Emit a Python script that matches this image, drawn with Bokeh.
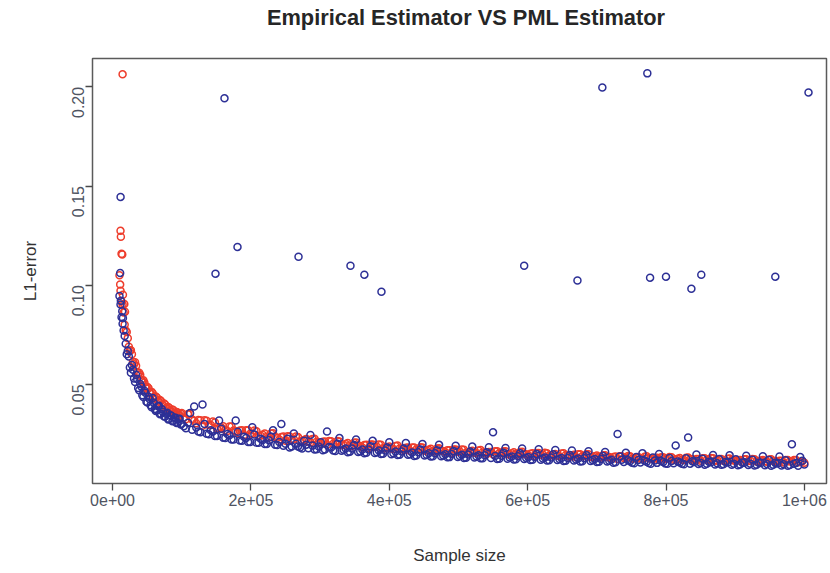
import math
from bokeh.plotting import figure
from bokeh.models import FixedTicker, Range1d, Div
from bokeh.layouts import column
from bokeh.embed import file_html
from bokeh.resources import INLINE

# Sample sizes: two interleaved grids, finer at small n
early_a = list(range(10000, 100000, 3000))
early_b = list(range(11500, 100000, 3000))
late_a = list(range(100000, 1000001, 6000))
late_b = list(range(103000, 1000000, 6000))

# L1 error of the empirical estimator (blue)
emp_early_a = [0.0945, 0.0838, 0.0772, 0.0705, 0.0668, 0.0585, 0.0597, 0.0530, 0.0548, 0.0481,
               0.0502, 0.0445, 0.0468, 0.0412, 0.0437, 0.0395, 0.0431, 0.0376, 0.0369, 0.0392,
               0.0352, 0.0361, 0.0338, 0.0357, 0.0325, 0.0341, 0.0315, 0.0332, 0.0306, 0.0327]
emp_early_b = [0.0902, 0.0805, 0.0744, 0.0652, 0.0641, 0.0559, 0.0573, 0.0512, 0.0527, 0.0470,
               0.0489, 0.0436, 0.0458, 0.0409, 0.0426, 0.0384, 0.0407, 0.0366, 0.0389, 0.0349,
               0.0374, 0.0338, 0.0352, 0.0323, 0.0344, 0.0314, 0.0331, 0.0305, 0.0325, 0.0298]
emp_late_a = [0.0301, 0.0278, 0.0355, 0.0388, 0.0262, 0.0398, 0.0251, 0.0268, 0.0239, 0.0318,
              0.0231, 0.0249, 0.0222, 0.0318, 0.0217, 0.0236, 0.0209, 0.0284, 0.0206, 0.0226,
              0.0199, 0.0218, 0.0268, 0.0194, 0.0300, 0.0201, 0.0182, 0.0252, 0.0187, 0.0176,
              0.0196, 0.0244, 0.0171, 0.0186, 0.0168, 0.0262, 0.0181, 0.0164, 0.0229, 0.0170,
              0.0158, 0.0176, 0.0222, 0.0162, 0.0153, 0.0171, 0.0215, 0.0157, 0.0149, 0.0166,
              0.0208, 0.0152, 0.0144, 0.0161, 0.0204, 0.0148, 0.0139, 0.0158, 0.0199, 0.0145,
              0.0136, 0.0153, 0.0195, 0.0141, 0.0132, 0.0149, 0.0190, 0.0139, 0.0129, 0.0146,
              0.0186, 0.0136, 0.0127, 0.0143, 0.0183, 0.0258, 0.0124, 0.0140, 0.0179, 0.0131,
              0.0121, 0.0137, 0.0176, 0.0128, 0.0119, 0.0134, 0.0173, 0.0126, 0.0116, 0.0131,
              0.0169, 0.0123, 0.0114, 0.0129, 0.0166, 0.0121, 0.0111, 0.0127, 0.0163, 0.0118,
              0.0108, 0.0124, 0.0159, 0.0115, 0.0105, 0.0249, 0.0120, 0.0155, 0.0112, 0.0102,
              0.0118, 0.0152, 0.0110, 0.0100, 0.0116, 0.0149, 0.0108, 0.0099, 0.0114, 0.0192,
              0.0106, 0.0097, 0.0232, 0.0112, 0.0146, 0.0104, 0.0095, 0.0110, 0.0144, 0.0102,
              0.0094, 0.0108, 0.0142, 0.0100, 0.0092, 0.0106, 0.0140, 0.0099, 0.0091, 0.0105,
              0.0138, 0.0098, 0.0090, 0.0104, 0.0136, 0.0097, 0.0089, 0.0198, 0.0103, 0.0134,
              0.0096]
emp_late_b = [0.0289, 0.0306, 0.0271, 0.0282, 0.0259, 0.0300, 0.0248, 0.0262, 0.0240, 0.0276,
              0.0229, 0.0243, 0.0222, 0.0261, 0.0216, 0.0230, 0.0209, 0.0247, 0.0205, 0.0219,
              0.0199, 0.0236, 0.0195, 0.0209, 0.0190, 0.0226, 0.0186, 0.0200, 0.0181, 0.0216,
              0.0178, 0.0191, 0.0173, 0.0208, 0.0171, 0.0184, 0.0166, 0.0200, 0.0165, 0.0177,
              0.0160, 0.0194, 0.0159, 0.0171, 0.0155, 0.0188, 0.0154, 0.0166, 0.0150, 0.0182,
              0.0148, 0.0161, 0.0145, 0.0177, 0.0145, 0.0156, 0.0141, 0.0172, 0.0141, 0.0152,
              0.0137, 0.0168, 0.0137, 0.0148, 0.0133, 0.0164, 0.0134, 0.0145, 0.0130, 0.0161,
              0.0131, 0.0142, 0.0127, 0.0158, 0.0128, 0.0139, 0.0125, 0.0155, 0.0125, 0.0136,
              0.0122, 0.0152, 0.0123, 0.0133, 0.0120, 0.0149, 0.0120, 0.0131, 0.0117, 0.0147,
              0.0118, 0.0128, 0.0115, 0.0144, 0.0116, 0.0126, 0.0112, 0.0142, 0.0114, 0.0123,
              0.0110, 0.0139, 0.0111, 0.0120, 0.0107, 0.0136, 0.0108, 0.0117, 0.0105, 0.0133,
              0.0106, 0.0115, 0.0103, 0.0131, 0.0104, 0.0113, 0.0101, 0.0129, 0.0102, 0.0111,
              0.0099, 0.0127, 0.0100, 0.0109, 0.0098, 0.0125, 0.0099, 0.0107, 0.0096, 0.0123,
              0.0097, 0.0106, 0.0095, 0.0122, 0.0096, 0.0104, 0.0093, 0.0120, 0.0095, 0.0103,
              0.0092, 0.0118, 0.0094, 0.0101, 0.0091, 0.0117, 0.0093, 0.0100, 0.0090, 0.0115]
emp_extra_n = [11000, 11600, 12000, 14000, 15000, 148800, 161800, 180600, 268800, 343900,
               364000, 388700, 595000, 672000, 708000, 773000, 777000, 800000, 836700, 851000,
               958000, 1006000]
emp_extra = [0.1062, 0.1445, 0.0921, 0.0868, 0.0835, 0.1058, 0.1942, 0.1193, 0.1143, 0.1098,
             0.1053, 0.0967, 0.1098, 0.1023, 0.1997, 0.2068, 0.1038, 0.1043, 0.0982, 0.1053,
             0.1043, 0.1972]

# L1 error of the PML estimator (red)
pml_early_a = [0.1050, 0.0918, 0.0862, 0.0771, 0.0733, 0.0671, 0.0652, 0.0601, 0.0594, 0.0549,
               0.0548, 0.0514, 0.0509, 0.0479, 0.0480, 0.0452, 0.0455, 0.0430, 0.0434, 0.0412,
               0.0416, 0.0393, 0.0398, 0.0377, 0.0381, 0.0364, 0.0369, 0.0352, 0.0358, 0.0344]
pml_early_b = [0.0972, 0.0903, 0.0801, 0.0764, 0.0689, 0.0672, 0.0614, 0.0611, 0.0562, 0.0559,
               0.0523, 0.0521, 0.0488, 0.0486, 0.0459, 0.0462, 0.0436, 0.0439, 0.0417, 0.0421,
               0.0399, 0.0403, 0.0382, 0.0386, 0.0367, 0.0373, 0.0356, 0.0361, 0.0346, 0.0352]
pml_late_a = [0.0355, 0.0324, 0.0350, 0.0317, 0.0320, 0.0291, 0.0316, 0.0295, 0.0307, 0.0277,
              0.0289, 0.0265, 0.0288, 0.0263, 0.0267, 0.0245, 0.0268, 0.0251, 0.0264, 0.0241,
              0.0252, 0.0232, 0.0253, 0.0231, 0.0235, 0.0216, 0.0237, 0.0223, 0.0234, 0.0213,
              0.0225, 0.0207, 0.0226, 0.0207, 0.0211, 0.0195, 0.0213, 0.0201, 0.0212, 0.0194,
              0.0204, 0.0189, 0.0207, 0.0189, 0.0194, 0.0179, 0.0197, 0.0185, 0.0195, 0.0178,
              0.0187, 0.0174, 0.0191, 0.0175, 0.0180, 0.0165, 0.0182, 0.0172, 0.0182, 0.0166,
              0.0175, 0.0162, 0.0178, 0.0164, 0.0168, 0.0155, 0.0171, 0.0161, 0.0170, 0.0156,
              0.0165, 0.0154, 0.0169, 0.0155, 0.0159, 0.0147, 0.0162, 0.0153, 0.0162, 0.0148,
              0.0157, 0.0146, 0.0160, 0.0147, 0.0150, 0.0140, 0.0154, 0.0146, 0.0153, 0.0142,
              0.0149, 0.0138, 0.0153, 0.0140, 0.0143, 0.0133, 0.0147, 0.0139, 0.0147, 0.0135,
              0.0141, 0.0131, 0.0143, 0.0133, 0.0134, 0.0124, 0.0137, 0.0130, 0.0138, 0.0126,
              0.0134, 0.0124, 0.0137, 0.0126, 0.0129, 0.0119, 0.0132, 0.0125, 0.0132, 0.0121,
              0.0129, 0.0119, 0.0131, 0.0122, 0.0124, 0.0115, 0.0127, 0.0120, 0.0127, 0.0116,
              0.0124, 0.0114, 0.0126, 0.0117, 0.0119, 0.0110, 0.0122, 0.0115, 0.0122, 0.0112,
              0.0119, 0.0110, 0.0122, 0.0113, 0.0115, 0.0106, 0.0118, 0.0112, 0.0118, 0.0108,
              0.0105]
pml_late_b = [0.0331, 0.0350, 0.0323, 0.0304, 0.0319, 0.0319, 0.0295, 0.0313, 0.0277, 0.0283,
              0.0270, 0.0288, 0.0267, 0.0253, 0.0268, 0.0269, 0.0251, 0.0267, 0.0239, 0.0246,
              0.0236, 0.0252, 0.0235, 0.0222, 0.0237, 0.0238, 0.0221, 0.0237, 0.0212, 0.0219,
              0.0210, 0.0225, 0.0210, 0.0200, 0.0212, 0.0214, 0.0200, 0.0214, 0.0193, 0.0199,
              0.0191, 0.0206, 0.0192, 0.0182, 0.0195, 0.0197, 0.0184, 0.0197, 0.0178, 0.0183,
              0.0176, 0.0189, 0.0177, 0.0169, 0.0181, 0.0182, 0.0171, 0.0183, 0.0165, 0.0170,
              0.0164, 0.0176, 0.0165, 0.0158, 0.0168, 0.0171, 0.0160, 0.0172, 0.0155, 0.0160,
              0.0155, 0.0167, 0.0156, 0.0149, 0.0159, 0.0162, 0.0152, 0.0163, 0.0147, 0.0152,
              0.0147, 0.0159, 0.0149, 0.0142, 0.0152, 0.0154, 0.0144, 0.0155, 0.0140, 0.0145,
              0.0140, 0.0151, 0.0142, 0.0135, 0.0145, 0.0147, 0.0137, 0.0148, 0.0133, 0.0138,
              0.0133, 0.0143, 0.0134, 0.0127, 0.0136, 0.0137, 0.0129, 0.0139, 0.0125, 0.0130,
              0.0125, 0.0135, 0.0127, 0.0122, 0.0130, 0.0132, 0.0123, 0.0134, 0.0120, 0.0125,
              0.0120, 0.0130, 0.0122, 0.0117, 0.0124, 0.0127, 0.0119, 0.0128, 0.0115, 0.0120,
              0.0115, 0.0125, 0.0117, 0.0112, 0.0119, 0.0122, 0.0114, 0.0123, 0.0111, 0.0116,
              0.0112, 0.0121, 0.0113, 0.0108, 0.0115, 0.0118, 0.0111, 0.0119, 0.0107, 0.0112]
pml_extra_n = [11000, 11500, 12000, 13000, 14000, 14500, 15000, 17000, 18000]
pml_extra = [0.1003, 0.1274, 0.1244, 0.1158, 0.1155, 0.2063, 0.0952, 0.0905, 0.0866]

x_ticks = [0, 200000, 400000, 600000, 800000, 1000000]
x_tick_labels = ["0e+00", "2e+05", "4e+05", "6e+05", "8e+05", "1e+06"]
y_ticks = [0.05, 0.10, 0.15, 0.20]
y_tick_labels = ["0.05", "0.10", "0.15", "0.20"]

FONT = "Liberation Sans"
BLUE = "#2d3096"
RED = "#ee3d2c"
TITLE_H = 36

# heading strip above the plot
heading = Div(
    text="Empirical Estimator VS PML Estimator",
    width=728, height=TITLE_H, margin=(0, 0, 0, 102),
    styles={"font-family": FONT, "font-weight": "bold", "font-size": "21.8px",
            "color": "#262626", "text-align": "center", "line-height": f"{TITLE_H}px",
            "width": "728px", "display": "block"})

p = figure(width=830, height=573 - TITLE_H, output_backend="svg", toolbar_location=None,
           x_range=Range1d(-29000, 1032000), y_range=Range1d(0.0, 0.2143),
           min_border_left=92, min_border_right=4, min_border_top=58 - TITLE_H,
           min_border_bottom=90, margin=0)

p.background_fill_color = "white"
p.border_fill_color = "white"
p.grid.visible = False
p.outline_line_color = "#5a5a5a"
p.outline_line_width = 1.5


def pairs(xs, ys):
    n = min(len(xs), len(ys))
    return xs[:n], ys[:n]


circle_kw = dict(size=7, fill_color=None, line_width=1.5)
for xs, ys in ((early_a, pml_early_a), (early_b, pml_early_b),
               (late_a, pml_late_a), (late_b, pml_late_b), (pml_extra_n, pml_extra)):
    p.scatter(*pairs(xs, ys), line_color=RED, **circle_kw)
for xs, ys in ((early_a, emp_early_a), (early_b, emp_early_b),
               (late_a, emp_late_a), (late_b, emp_late_b), (emp_extra_n, emp_extra)):
    p.scatter(*pairs(xs, ys), line_color=BLUE, **circle_kw)

# axes in base-graphics style: outward ticks, no minor ticks
for ax in (p.xaxis[0], p.yaxis[0]):
    ax.axis_line_color = None
    ax.major_tick_in = 0
    ax.major_tick_out = 7
    ax.major_tick_line_color = "#4a4a4a"
    ax.major_tick_line_width = 1.3
    ax.minor_tick_line_color = None
    ax.major_label_text_font = FONT
    ax.major_label_text_font_size = "16px"
    ax.major_label_text_color = "#4f5462"
    ax.axis_label_text_font = FONT
    ax.axis_label_text_font_size = "17px"
    ax.axis_label_text_font_style = "normal"
    ax.axis_label_text_color = "#333333"

p.xaxis.ticker = FixedTicker(ticks=x_ticks)
p.xaxis.major_label_overrides = dict(zip(x_ticks, x_tick_labels))
p.xaxis.major_label_standoff = 3
p.xaxis.axis_label = "Sample size"
p.xaxis.axis_label_standoff = 37

p.yaxis.ticker = FixedTicker(ticks=y_ticks)
p.yaxis.major_label_overrides = dict(zip(y_ticks, y_tick_labels))
p.yaxis.major_label_orientation = math.pi / 2
p.yaxis.major_label_standoff = 7
p.yaxis.axis_label = "L1-error"
p.yaxis.axis_label_standoff = 24

page = column(heading, p, spacing=0, margin=0)
open("out.html", "w").write(file_html(page, INLINE))
